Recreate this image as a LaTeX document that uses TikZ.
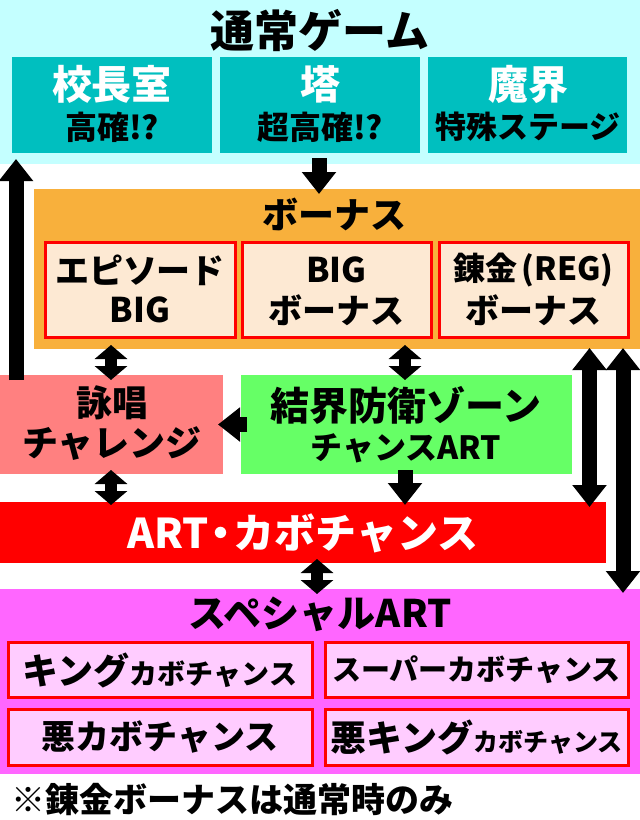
\documentclass[tikz,border=0pt]{standalone}
\usepackage{fontspec}
\setmainfont{Noto Sans CJK JP}[BoldFont={* Black}]
\usetikzlibrary{arrows.meta,calc}
\definecolor{cTop}{HTML}{C4FFFF}
\definecolor{cTeal}{HTML}{00BFBF}
\definecolor{cOrange}{HTML}{F8B03C}
\definecolor{cPeach}{HTML}{FDE9D3}
\definecolor{cPink}{HTML}{FF8080}
\definecolor{cGreen}{HTML}{66FF66}
\definecolor{cRed}{HTML}{FF0000}
\definecolor{cMag}{HTML}{FF66FF}
\definecolor{cLPink}{HTML}{FFCCFF}
\newcommand{\fsz}[1]{\fontsize{#1}{#1}\selectfont}
\begin{document}
\begin{tikzpicture}[x=1pt,y=-1pt,font=\bfseries,
  panel/.style={inner sep=0pt,outer sep=0pt,draw=none,rectangle},
  subbox/.style={inner sep=0pt,outer sep=0pt,rectangle,draw=cRed,line width=3pt},
  txt/.style={inner sep=0pt,outer sep=0pt,anchor=center},
  arrbig/.style={line width=15pt,-{Triangle[width=33pt,length=22pt]}},
  dblbig/.style={line width=15pt,{Triangle[width=33pt,length=22pt]}-{Triangle[width=33pt,length=22pt]}},
  dblsmall/.style={line width=12pt,{Triangle[width=32pt,length=14pt]}-{Triangle[width=32pt,length=14pt]}}]
\useasboundingbox (0,0) rectangle (640,820);
\fill[white] (0,0) rectangle (640,820);
% panels
\node[panel,fill=cTop,minimum width=640pt,minimum height=164pt] (top) at (320,82) {};
\node[panel,fill=cTeal,minimum width=200pt,minimum height=96pt] (t1) at (112,105) {};
\node[panel,fill=cTeal,minimum width=200pt,minimum height=96pt] (t2) at (320,105) {};
\node[panel,fill=cTeal,minimum width=199pt,minimum height=96pt] (t3) at (527.5,105) {};
\node[panel,fill=cOrange,minimum width=606pt,minimum height=160pt] (bonus) at (337,269) {};
\node[subbox,fill=cPeach,minimum width=190pt,minimum height=95pt] (b1) at (140,289.5) {};
\node[subbox,fill=cPeach,minimum width=189pt,minimum height=95pt] (b2) at (336.5,289.5) {};
\node[subbox,fill=cPeach,minimum width=189pt,minimum height=95pt] (b3) at (533.5,289.5) {};
\node[panel,fill=cPink,minimum width=223pt,minimum height=99pt] (pink) at (111.5,424.5) {};
\node[panel,fill=cGreen,minimum width=331pt,minimum height=99pt] (green) at (406.5,424.5) {};
\node[panel,fill=cRed,minimum width=606pt,minimum height=61pt] (art) at (303,532.5) {};
\node[panel,fill=cMag,minimum width=640pt,minimum height=185pt] (sp) at (320,681.5) {};
\node[subbox,fill=cLPink,minimum width=304pt,minimum height=55pt] (s1) at (160,669.5) {};
\node[subbox,fill=cLPink,minimum width=303pt,minimum height=55pt] (s2) at (476.5,669.5) {};
\node[subbox,fill=cLPink,minimum width=304pt,minimum height=56pt] (s3) at (160,737) {};
\node[subbox,fill=cLPink,minimum width=303pt,minimum height=56pt] (s4) at (476.5,737) {};
% texts
\node[txt] (tTop) at (320,31) {\fsz{44}通常ゲーム};
\node[txt,white] (t1a) at (112,84) {\fsz{40}校長室};
\node[txt] (t1b) at (112,127) {\fsz{32}高確!?};
\node[txt,white] (t2a) at (320,84) {\fsz{40}塔};
\node[txt] (t2b) at (320,127) {\fsz{32}超高確!?};
\node[txt,white] (t3a) at (528,84) {\fsz{40}魔界};
\node[txt] (t3b) at (528,127) {\fsz{31}特殊ステージ};
\node[txt] (tBonus) at (334,214) {\fsz{36}ボーナス};
\node[txt] (b1a) at (140,270) {\fsz{34}エピソード};
\node[txt] (b1b) at (140,310) {\fsz{34}BIG};
\node[txt] (b2a) at (336.5,270) {\fsz{34}BIG};
\node[txt] (b2b) at (336.5,310) {\fsz{34}ボーナス};
\node[txt] (b3a) at (533.5,270) {\fsz{32}錬金\hspace{4pt}(REG)};
\node[txt] (b3b) at (533.5,310) {\fsz{34}ボーナス};
\node[txt] (pa) at (112,403) {\fsz{36}詠唱};
\node[txt] (pb) at (112,444) {\fsz{36}チャレンジ};
\node[txt] (ga) at (406,405) {\fsz{39}結界防衛ゾーン};
\node[txt] (gb) at (406,448) {\fsz{32}チャンスART};
\node[txt,white] (ra) at (303,533) {\fsz{41}ART\hspace{-8pt}・\hspace{-8pt}カボチャンス};
\node[txt] (spt) at (320,614) {\fsz{38}スペシャルART};
\node[txt] (s1t) at (160,670) {\fsz{36}キング{\fsz{28}カボチャンス}};
\node[txt] (s2t) at (476.5,670) {\fsz{29}スーパーカボチャンス};
\node[txt] (s3t) at (160,737) {\fsz{34}悪カボチャンス};
\node[txt] (s4t) at (476.5,737) {\fsz{36}悪キング{\fsz{25}カボチャンス}};
\node[txt,anchor=west] (note) at (12,800) {\fsz{34}※錬金ボーナスは通常時のみ};
% connector x positions
\coordinate (xL) at (16,0);
\coordinate (xT) at (319,0);
\coordinate (xA) at (111,0);
\coordinate (xB) at (405,0);
\coordinate (xC) at (317,0);
\coordinate (xR1) at (589.5,0);
\coordinate (xR2) at (623,0);
% connectors
\draw[arrbig] ($(pink.north -| xL)+(0,5)$) -- ($(top.south -| xL)+(0,-5)$);
\draw[arrbig] ($(top.south -| xT)+(0,-6)$) -- ($(bonus.north -| xT)+(0,5)$);
\draw[dblsmall] ($(bonus.south -| xA)+(0,-4)$) -- ($(pink.north -| xA)+(0,5)$);
\draw[dblsmall] ($(bonus.south -| xB)+(0,-4)$) -- ($(green.north -| xB)+(0,5)$);
\draw[arrbig] ($(green.west)+(6,0)$) -- ($(pink.east |- green.west)+(-5,0)$);
\draw[dblsmall] ($(pink.south -| xA)+(0,-4)$) -- ($(art.north -| xA)+(0,3)$);
\draw[arrbig] ($(green.south -| xB)+(0,-4)$) -- ($(art.north -| xB)+(0,3)$);
\draw[dblsmall] ($(art.south -| xC)+(0,-4)$) -- ($(sp.north -| xC)+(0,5)$);
\draw[dblbig] ($(bonus.south -| xR1)+(0,-1)$) -- ($(art.north -| xR1)+(0,5)$);
\draw[dblbig] ($(bonus.south -| xR2)+(0,-1)$) -- ($(sp.north -| xR2)+(0,4)$);
\end{tikzpicture}
\end{document}
